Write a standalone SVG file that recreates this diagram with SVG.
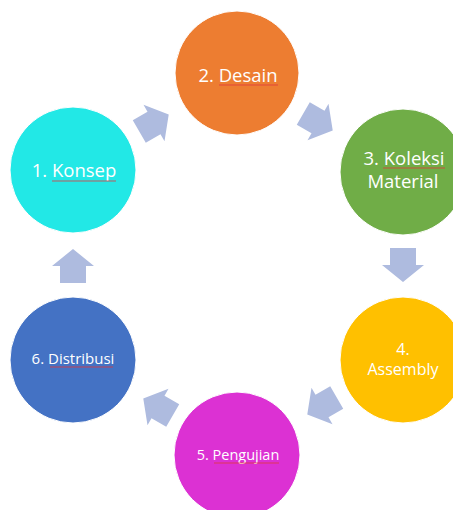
<svg xmlns="http://www.w3.org/2000/svg" width="453" height="510" viewBox="0 0 453 510">
  <defs>
    <!-- block arrow pointing right, centred on the origin -->
    <polygon id="blockArrow" points="-17,-13 0,-13 0,-21 17,0 0,21 0,13 -17,13"/>
    <style>
      .step circle { stroke: #ffffff; stroke-width: 1; }
      .step text { fill: #ffffff; font-family: "Open Sans", "Noto Sans", "Liberation Sans", sans-serif; text-anchor: middle; }
      .squiggle { stroke: #e0383c; stroke-width: 1; fill: none; opacity: 0.8; }
      #connectors use { fill: #aebbdf; }
    </style>
  </defs>
  <rect width="453" height="510" fill="#ffffff"/>

  <!-- cycle arrows -->
  <g id="connectors">
    <use href="#blockArrow" transform="translate(154,123) rotate(-30)"/>
    <use href="#blockArrow" transform="translate(318,122) rotate(30)"/>
    <use href="#blockArrow" transform="translate(403,265) rotate(90)"/>
    <use href="#blockArrow" transform="translate(322,406) rotate(150)"/>
    <use href="#blockArrow" transform="translate(158,407) rotate(210)"/>
    <use href="#blockArrow" transform="translate(73,266) rotate(-90)"/>
  </g>

  <g id="step1" class="step">
    <circle cx="73" cy="170" r="63" fill="#22e8e6"/>
    <text x="74" y="177" font-size="18.5">1. Konsep</text>
    <line class="squiggle" x1="52" y1="181" x2="116" y2="181"/>
  </g>

  <g id="step2" class="step">
    <circle cx="237" cy="73" r="62" fill="#ed7d31"/>
    <text x="238" y="82" font-size="18.5">2. Desain</text>
    <line class="squiggle" x1="219" y1="85" x2="278" y2="85"/>
  </g>

  <g id="step3" class="step">
    <circle cx="403" cy="172" r="63" fill="#70ad47"/>
    <text x="404" y="165" font-size="18.5">3. Koleksi</text>
    <text x="403" y="188" font-size="18.5">Material</text>
    <line class="squiggle" x1="383" y1="168" x2="445" y2="168"/>
  </g>

  <g id="step4" class="step">
    <circle cx="403" cy="360" r="63" fill="#ffc000"/>
    <text x="403" y="355" font-size="16">4.</text>
    <text x="403" y="375" font-size="16">Assembly</text>
  </g>

  <g id="step5" class="step">
    <circle cx="237" cy="455" r="63" fill="#dc31d3"/>
    <text x="238" y="460" font-size="14.5">5. Pengujian</text>
    <line class="squiggle" x1="214" y1="463" x2="279" y2="463"/>
  </g>

  <g id="step6" class="step">
    <circle cx="73" cy="360" r="63" fill="#4472c4"/>
    <text x="73" y="364" font-size="15">6. Distribusi</text>
    <line class="squiggle" x1="50" y1="367" x2="113" y2="367"/>
  </g>
</svg>
